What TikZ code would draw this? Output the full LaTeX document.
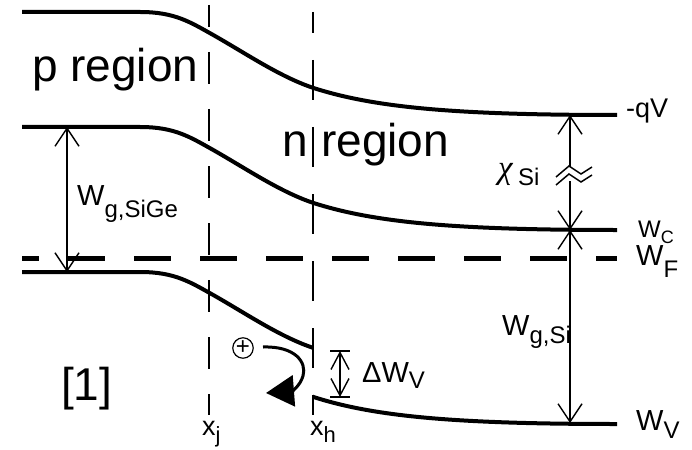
\documentclass[tikz,border=0pt]{standalone}
\usepackage{fontspec}
\setmainfont{Liberation Sans}
\newfontfamily\grk{Liberation Serif}
\usetikzlibrary{arrows.meta,calc}
\newcommand{\fs}[1]{\fontsize{#1}{#1}\selectfont}
\begin{document}
\begin{tikzpicture}[x=1pt,y=-1pt,
  bandline/.style={line width=4pt},
  vdash/.style={line width=2pt},
  dim/.style={line width=1.4pt,{Straight Barb[length=18pt,width=24pt]}-{Straight Barb[length=18pt,width=24pt]}},
  dimup/.style={line width=1.4pt,-{Straight Barb[length=18pt,width=24pt]}},
  lbl/.style={anchor=base west,inner sep=0pt,font=\fs{29}},
  big/.style={anchor=base west,inner sep=0pt,font=\fs{46}},
  band/.pic={\draw[bandline] (22,12) -- (140,12) .. controls (175,12) and (190,22) .. (215,36) .. controls (250,56) and (285,80) .. (320,90) .. controls (380,108) and (460,115) .. (617,115);}
]
\useasboundingbox (0,0) rectangle (692,449);
% bands
\pic at (0,0) {band};
\pic at (0,115) {band};
\begin{scope}
  \clip (0,0) rectangle (313,449);
  \pic at (0,260) {band};
\end{scope}
\begin{scope}
  \clip (313,0) rectangle (692,449);
  \pic at (0,309) {band};
\end{scope}
% Fermi level
\coordinate (fL) at (22,258);
\coordinate (fR) at (617,258);
\draw[line width=5pt,dash pattern=on 37pt off 29pt,dash phase=20pt] (fL) -- (fR);
% vertical dashed lines
\coordinate (xjT) at (209,5);
\coordinate (xjB) at (209,415);
\coordinate (xhT) at (313,12);
\coordinate (xhB) at (313,415);
\draw[vdash,dash pattern=on 32pt off 25pt,dash phase=10pt] (xjT) -- (xjB);
\draw[vdash,dash pattern=on 40pt off 27pt,dash phase=19pt] (xhT) -- (xhB);
% dimension arrows
\coordinate (cbL) at (67,127);
\coordinate (vbL) at (67,272);
\draw[dim] (cbL) -- (vbL);
\coordinate (vac) at (570,115);
\coordinate (brkT) at (570,167);
\coordinate (brkB) at (570,181);
\coordinate (cbR) at (570,230);
\coordinate (vbR) at (570,423);
\draw[dimup] (brkT) -- (vac);
\draw[dimup] (brkB) -- (cbR);
\draw[dim] (cbR) -- (vbR);
\draw[line width=1.5pt] (556,177) -- (569,166) -- (581,174) -- (592,167);
\draw[line width=1.5pt] (556,185) -- (569,174) -- (581,182) -- (592,175);
\coordinate (dvT) at (340,351);
\coordinate (dvB) at (340,397);
\draw[dim,{Straight Barb[length=17pt,width=18pt]}-{Straight Barb[length=17pt,width=18pt]}] (dvT) -- (dvB);
\draw[line width=1.4pt] ($(dvT)+(-10,0)$) -- ($(dvT)+(10,0)$);
\draw[line width=1.4pt] ($(dvB)+(-10,0)$) -- ($(dvB)+(10,0)$);
% hole
\node[circle,draw,line width=1.2pt,minimum size=20pt,inner sep=0pt,font=\fs{24}] (hole) at (243,348) {\raisebox{1pt}{+}};
\coordinate (hs) at (263,347);
\coordinate (ht) at (266,393);
\draw[line width=3pt,-{Triangle[length=28pt,width=31pt]}] (hs) .. controls (295,346) and (307,362) .. (303,376) .. controls (300,386) and (292,391) .. (ht);
% labels
\node[big] (pr) at (32,82) {p region};
\node[big] (nn) at (282,157) {n};
\node[big] (nr) at (321,157) {region};
\node[big] (ref) at (61,400) {[1]};
\node[lbl,font=\fs{27}] (qv) at (626,118) {-qV};
\node[lbl,font=\fs{24}] (wc) at (638,237) {W\raisebox{-6pt}{\fs{18}C}};
\node[lbl] (wf) at (636,265) {W\raisebox{-12pt}{\fs{24}F}};
\node[lbl] (wv) at (636,430) {W\raisebox{-8pt}{\fs{24}V}};
\node[lbl] (wgsige) at (77,205) {W\raisebox{-12pt}{\fs{24}g,SiGe}};
\node[lbl] (wgsi) at (502,335) {W\raisebox{-8pt}{\fs{24}g,Si}};
\node[lbl] (dwv) at (362,382) {ΔW\raisebox{-6pt}{\fs{24}V}};
\node[lbl,font=\fs{33}\grk\itshape] (chi) at (498,178) {χ};
\node[lbl,font=\fs{24}] (chisi) at (518,185) {Si};
\node[lbl,font=\fs{27}] (xj) at (202,435) {x\raisebox{-7pt}{\fs{22}j}};
\node[lbl,font=\fs{27}] (xh) at (310,435) {x\raisebox{-7pt}{\fs{22}h}};
\end{tikzpicture}
\end{document}
